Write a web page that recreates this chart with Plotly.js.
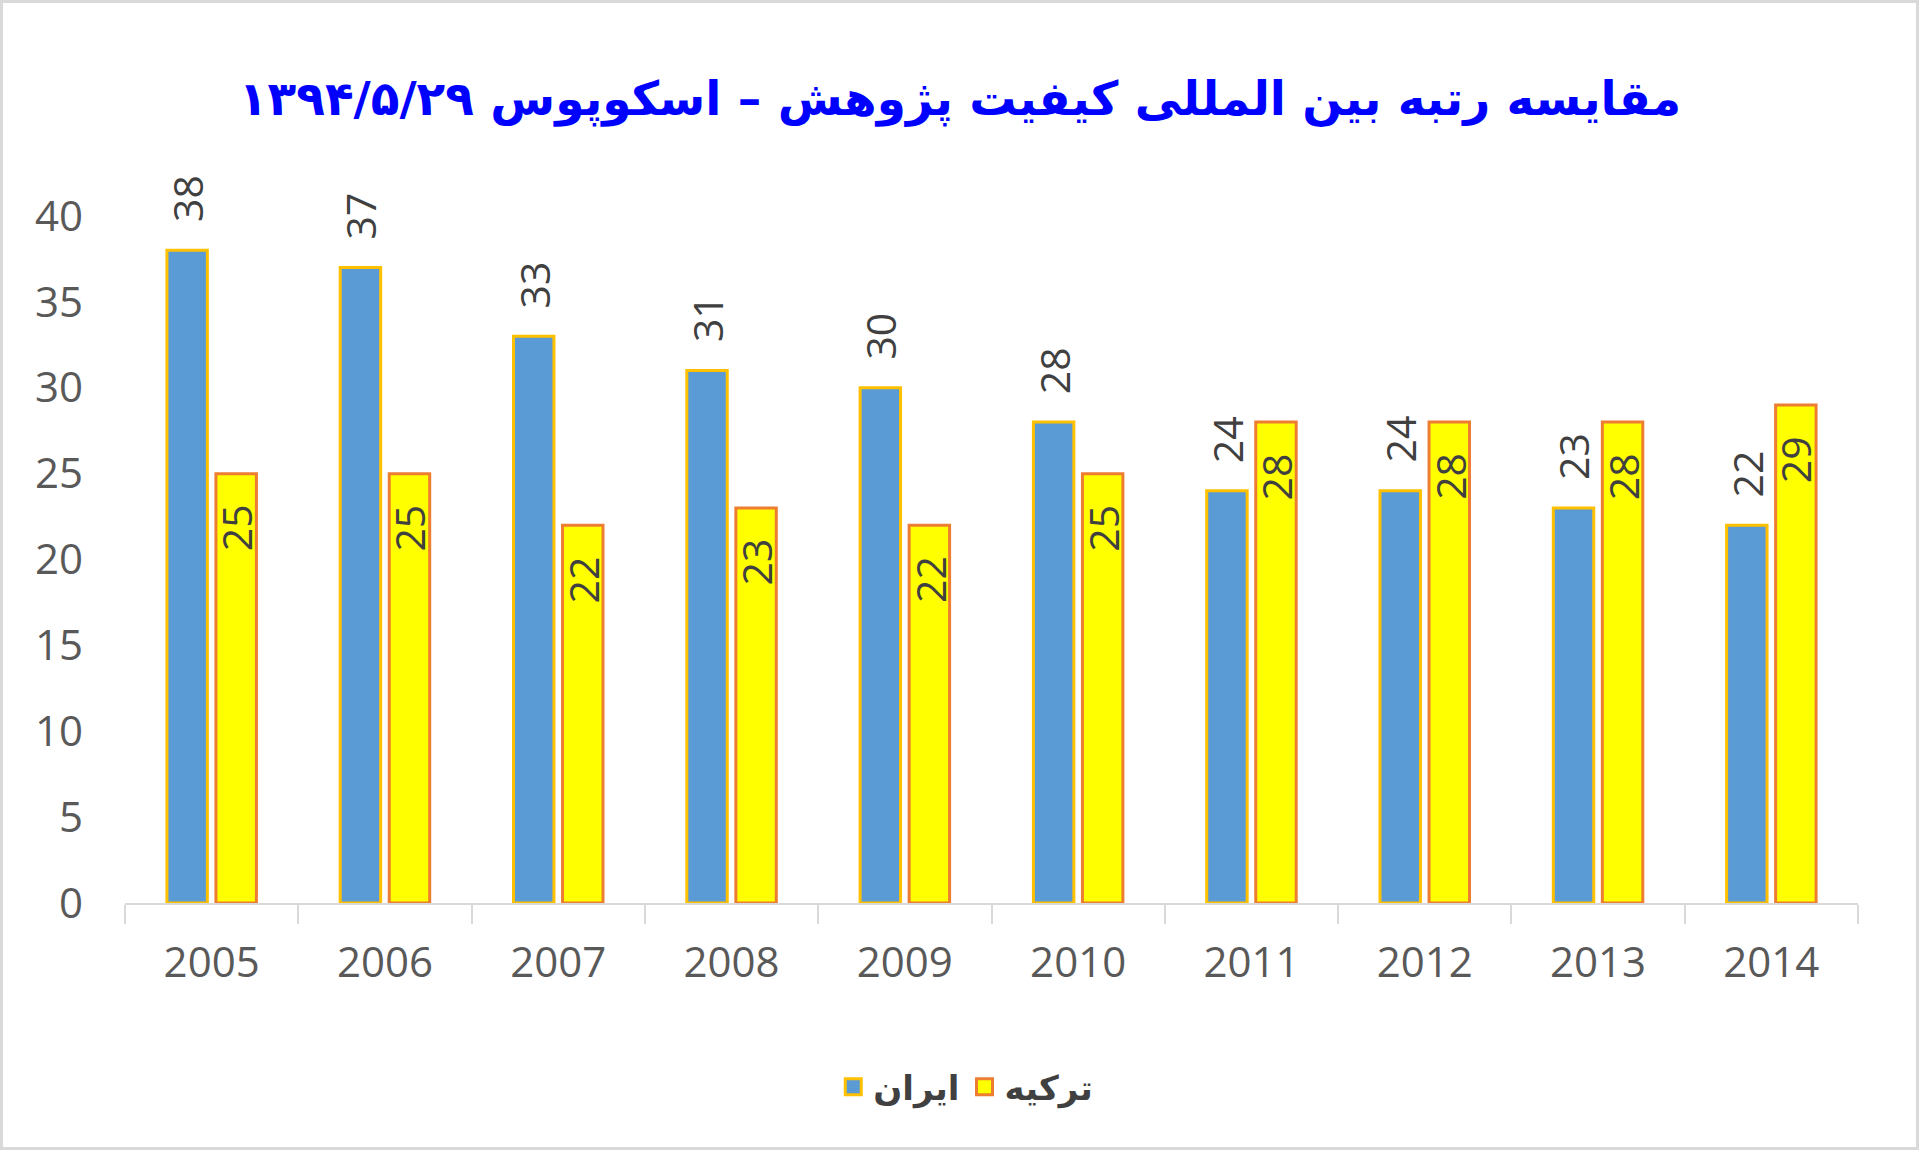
<!DOCTYPE html>
<html>
<head>
<meta charset="utf-8">
<script src="https://cdn.plot.ly/plotly-3.0.1.min.js"></script>
<style>
  html, body { margin: 0; padding: 0; background: #ffffff; }
  #chart { width: 1920px; height: 1154px; }
  #frame { position: absolute; left: 0; top: 0; width: 1919px; height: 1150px; box-sizing: border-box; border: 3px solid #d9d9d9; pointer-events: none; }
</style>
</head>
<body>
<div id="chart"></div>
<div id="frame"></div>
<script>
// ---- data ----
const years = ['2005', '2006', '2007', '2008', '2009', '2010', '2011', '2012', '2013', '2014'];
const iranValues = [38, 37, 33, 31, 30, 28, 24, 24, 23, 22];
const turkeyValues = [25, 25, 22, 23, 22, 25, 28, 28, 28, 29];
const seriesNames = ['ایران', 'ترکیه'];
const yTicks = [0, 5, 10, 15, 20, 25, 30, 35, 40];
const titleText = 'مقایسه رتبه بین المللی کیفیت پژوهش – اسکوپوس ۱۳۹۴/۵/۲۹';

const colors = {
  iranFill: '#5B9BD5', iranLine: '#FFC000',
  turkeyFill: '#FFFF00', turkeyLine: '#ED7D31'
};

const labelFont = { family: 'Open Sans, Liberation Sans, sans-serif', size: 41, color: '#404040' };
const tickFont = { family: 'Open Sans, Liberation Sans, sans-serif', size: 42, color: '#595959' };

const traces = [
  {
    type: 'bar', name: seriesNames[0], x: years, y: iranValues, showlegend: false,
    marker: { color: colors.iranFill, line: { color: colors.iranLine, width: 3 } },
    hoverinfo: 'x+y'
  },
  {
    type: 'bar', name: seriesNames[1], x: years, y: turkeyValues, showlegend: false,
    marker: { color: colors.turkeyFill, line: { color: colors.turkeyLine, width: 3 } },
    hoverinfo: 'x+y'
  },
  // legend-only entries (larger square swatches)
  {
    type: 'scatter', mode: 'markers', name: seriesNames[0], x: [null], y: [null],
    marker: { symbol: 'square', size: 30, color: colors.iranFill, line: { color: colors.iranLine, width: 3 } },
    hoverinfo: 'skip'
  },
  {
    type: 'scatter', mode: 'markers', name: seriesNames[1], x: [null], y: [null],
    marker: { symbol: 'square', size: 30, color: colors.turkeyFill, line: { color: colors.turkeyLine, width: 3 } },
    hoverinfo: 'skip'
  }
];

// data labels: x given as category index on the category axis
const annotations = [];
years.forEach((yr, i) => {
  annotations.push({
    x: i, y: iranValues[i], xref: 'x', yref: 'y', text: String(iranValues[i]),
    showarrow: false, textangle: -90, xanchor: 'center', yanchor: 'bottom',
    xshift: -24.5, yshift: 26, font: labelFont
  });
  annotations.push({
    x: i, y: turkeyValues[i], xref: 'x', yref: 'y', text: String(turkeyValues[i]),
    showarrow: false, textangle: -90, xanchor: 'center', yanchor: 'top',
    xshift: 24.5, yshift: -29, font: labelFont
  });
});

const layout = {
  width: 1920, height: 1154,
  paper_bgcolor: '#ffffff', plot_bgcolor: '#ffffff',
  margin: { l: 125, r: 62, t: 216, b: 251, pad: 0 },
  title: {
    text: '<b>' + titleText + '</b>',
    font: { family: 'DejaVu Sans, sans-serif', size: 47, color: '#0000FF' },
    x: 0.5, xanchor: 'center', xref: 'container',
    y: 0.915, yanchor: 'middle', yref: 'container'
  },
  barmode: 'group', bargap: 0.434, bargroupgap: 0.175,
  xaxis: {
    type: 'category', categoryorder: 'array', categoryarray: years,
    range: [-0.5, years.length - 0.5], autorange: false,
    showline: true, linecolor: '#d9d9d9', linewidth: 2,
    ticks: 'outside', tickson: 'boundaries', ticklen: 19, tickwidth: 2, tickcolor: '#d9d9d9',
    tickfont: tickFont, tickangle: 0, ticklabelstandoff: 22,
    showgrid: false, zeroline: false, fixedrange: true
  },
  yaxis: {
    range: [0, 40], autorange: false, tickvals: yTicks, ticktext: yTicks.map(String),
    showline: false, showgrid: false, zeroline: false, ticks: '',
    tickfont: tickFont, ticklabelstandoff: 41, fixedrange: true
  },
  showlegend: true,
  legend: {
    orientation: 'h', xref: 'container', yref: 'container',
    x: 0.503, xanchor: 'center', y: 0.058, yanchor: 'middle',
    font: { family: 'DejaVu Sans, sans-serif', size: 34, color: '#404040', weight: 'bold' },
    itemwidth: 30, traceorder: 'normal'
  },
  annotations: annotations
};

Plotly.newPlot('chart', traces, layout, { displayModeBar: false, staticPlot: true });
</script>
</body>
</html>
